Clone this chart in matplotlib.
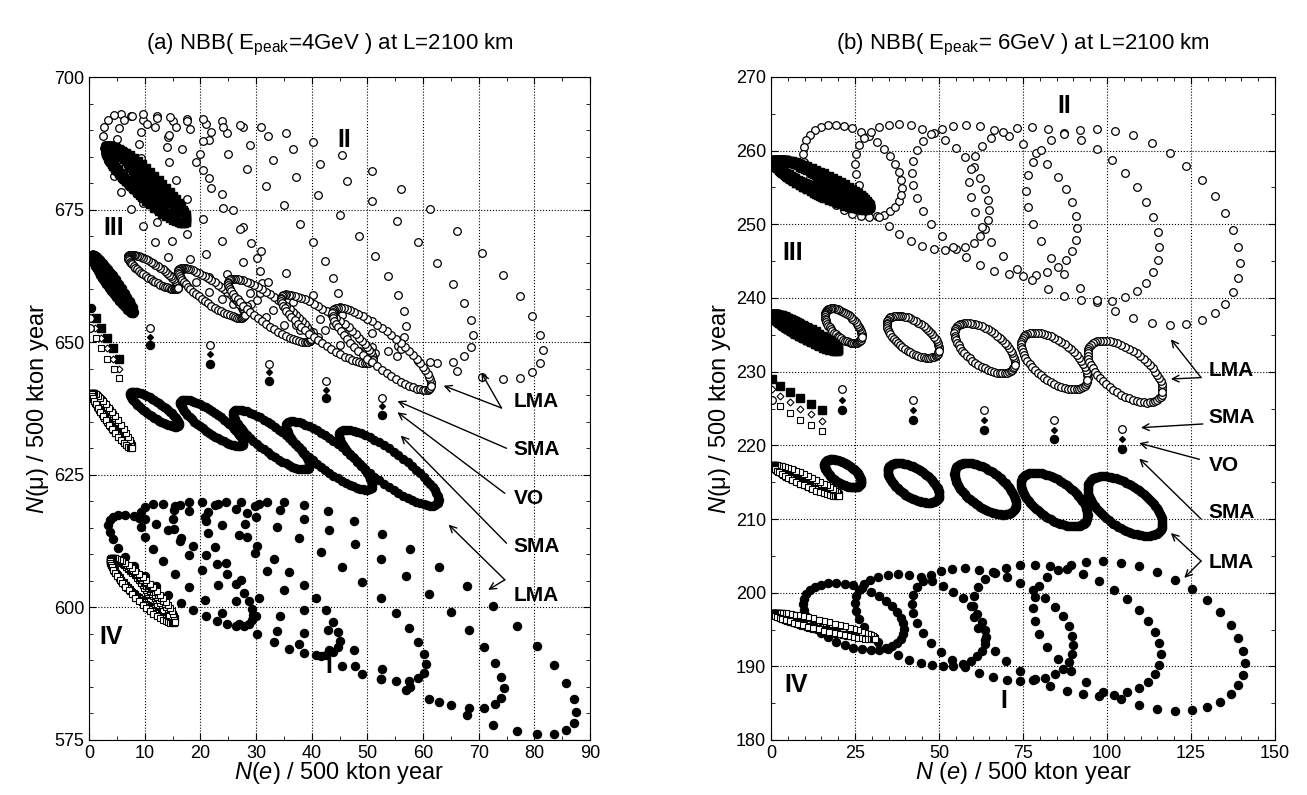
import numpy as np
import matplotlib.pyplot as plt

plt.rcParams['font.family'] = 'Liberation Sans'
plt.rcParams['mathtext.fontset'] = 'custom'
plt.rcParams['mathtext.rm'] = 'Liberation Sans'
plt.rcParams['mathtext.it'] = 'Liberation Sans:italic'
plt.rcParams['mathtext.bf'] = 'Liberation Sans:bold'

# ---------------- panel (a): NBB 4 GeV ----------------
# each loop = (x range, y range); points run over delta_CP
a_II_x = [(2.5, 31), (5, 45), (9, 57), (14, 69), (20, 81.5)]
a_II_y = [(657, 693), (652, 693), (648, 692.5), (646, 692), (643, 691)]
a_I_x = [(3.5, 29.5), (9, 45), (15, 60.5), (21, 74.5), (28, 87.5)]
a_I_y = [(596.5, 617.5), (591, 619.5), (586, 620), (581, 620), (576, 620)]
a_lma_open_x = [(7, 16), (16, 28), (25, 40), (34.5, 51), (43.7, 61.5)]
a_lma_open_y = [(660, 666.5), (654.6, 664), (650, 662), (646, 659), (641, 656.5)]
a_lma_fill_x = [(7.4, 16.1), (16.4, 27.7), (25.9, 39.6), (35.4, 50.9), (44.9, 62.8)]
a_lma_fill_y = [(634.1, 640.7), (630.4, 639.2), (626, 637.3), (622.2, 635.1), (619.2, 633.5)]

# narrow blobs (regions III / IV): common corner + varying far end
a_III_sq_x = (3.0, [9.5, 11.5, 13.5, 15.5, 17.5])
a_III_sq_y = (687.0, [678.5, 677, 675.5, 674, 672.5])
a_III_c_x = (0.5, [5, 5.8, 6.6, 7.3, 8])
a_III_c_y = (666.5, [659, 658.2, 657.2, 656.3, 655.5])
a_IIIb_sq_x = (0.5, [5, 5.7, 6.4, 7, 7.7])
a_IIIb_sq_y = (640.5, [633.5, 632.6, 631.7, 630.8, 630])
a_IV_x = (3.8, [11, 12.2, 13.3, 14.4, 15.5])
a_IV_y = (609.3, [601, 600, 599, 598, 597])

# SMA / VO single points
a_col_x = [11, 21.7, 32.3, 42.6, 52.6]
a_col_sma_open = [652.7, 649.4, 645.9, 642.6, 639.5]
a_col_vo = [651, 647.7, 644.3, 641, 637.9]
a_col_sma_fill = [649.4, 645.9, 642.6, 639.5, 636.3]
a_casc_sqf_x = [1.2, 2.2, 3.3, 4.3, 5.4]
a_casc_sqf_y = [654.6, 652.7, 650.8, 648.9, 646.9]
a_casc_dia_x = [1.0, 2.2, 3.3, 4.3, 5.4]
a_casc_dia_y = [652.7, 650.8, 648.9, 646.9, 645.0]
a_casc_sqo_x = [1.2, 2.2, 3.3, 4.5, 5.4]
a_casc_sqo_y = [650.8, 648.9, 646.9, 645.0, 643.3]
a_casc_co_x = [0.2, 0.2]
a_casc_co_y = [654.6, 652.7]
a_casc_cf = (0.3, 656.5)

# ---------------- panel (b): NBB 6 GeV ----------------
b_II_x = [(9.5, 39), (25, 65), (42, 91), (59, 115.5), (76, 139.5)]
b_II_y = [(251, 263.5), (246.5, 263.6), (243, 263.5), (239.5, 263.2), (236.3, 263)]
b_I_x = [(9.5, 39.5), (25, 64), (42, 90), (60, 116), (78, 141)]
b_I_y = [(192.2, 201.3), (190, 202.5), (188, 203.3), (186, 203.8), (184, 204.3)]
b_lma_open_x = [(16, 27), (34.5, 50), (54.6, 72.6), (74.4, 94.2), (94.2, 116.5)]
b_lma_open_y = [(233.9, 238.6), (231.9, 237.6), (229.8, 236.6), (227.6, 235.3), (225.8, 234.2)]
b_lma_fill_x = [(15.9, 26.8), (34.7, 50.1), (54.6, 72.9), (74.4, 94.2), (94.2, 116.5)]
b_lma_fill_y = [(214.3, 218.1), (212.2, 217.6), (210.6, 217.6), (209, 216.3), (207.7, 215.8)]

b_III_sq_x = (1.0, [17, 20, 23, 26, 29.5])
b_III_sq_y = (258.8, [254.8, 254.0, 253.2, 252.5, 252])
b_IIIb_sq_x = (0.5, [12, 14, 16, 18, 20])
b_IIIb_sq_y = (237.8, [234.6, 234.1, 233.6, 233.2, 232.8])
b_IVb_sq_x = (0.5, [12, 14, 16, 18, 20.3])
b_IVb_sq_y = (217.3, [214.8, 214.3, 213.9, 213.5, 213.1])
b_IV_x = (0.5, [15, 19, 23, 27, 31])
b_IV_y = (197.3, [195, 194.7, 194.3, 194, 193.7])

b_col_x = [21.1, 42.2, 63.3, 84.1, 104.6]
b_col_sma_open = [227.6, 226.1, 224.8, 223.4, 222.2]
b_col_vo = [226.2, 224.8, 223.4, 222.1, 220.8]
b_col_sma_fill = [224.8, 223.4, 222.1, 220.8, 219.5]
b_casc_sqf_x = [0.4, 2.7, 5.7, 8.7, 11.9, 15.2]
b_casc_sqf_y = [229, 228.1, 227.3, 226.4, 225.6, 224.8]
b_casc_dia_x = [0.4, 2.7, 5.7, 8.7, 11.9, 15.2]
b_casc_dia_y = [227.6, 226.7, 225.9, 225, 224.2, 223.3]
b_casc_sqo_x = [2.7, 5.7, 8.7, 11.9, 15.2]
b_casc_sqo_y = [225.3, 224.4, 223.5, 222.7, 221.9]
b_casc_co_x = [0.4]
b_casc_co_y = [226.2]

OPEN_C = dict(marker='o', ls='none', mfc='white', mec='black', ms=5.5, mew=0.9)
FILL_C = dict(marker='o', ls='none', color='black', ms=5.8)
FILL_S = dict(marker='s', ls='none', color='black', ms=5.5)
OPEN_S = dict(marker='s', ls='none', mfc='white', mec='black', ms=5, mew=0.8)
OPEN_D = dict(marker='D', ls='none', mfc='white', mec='black', ms=3.5, mew=0.8)
FILL_D = dict(marker='D', ls='none', color='black', ms=3)


def loop(xr, yr, tilt, n):
    d = np.linspace(0, 2 * np.pi, n, endpoint=False)
    cx, rx = (xr[0] + xr[1]) / 2, (xr[1] - xr[0]) / 2
    cy, ry = (yr[0] + yr[1]) / 2, (yr[1] - yr[0]) / 2
    return cx + rx * np.cos(d), cy + ry * np.cos(d - tilt)


def draw_loops(ax, xs, ys, tilt, n, style):
    for xr, yr in zip(xs, ys):
        x, y = loop(xr, yr, tilt, n)
        ax.plot(x, y, **style)


def draw_blob(ax, bx, by, tilt, n, style):
    for xh, yl in zip(bx[1], by[1]):
        x, y = loop((bx[0], xh), (yl, by[0]), tilt, n)
        ax.plot(x, y, **style)


def arrow(ax, start, end):
    ax.annotate('', xy=end, xytext=start,
                arrowprops=dict(arrowstyle='->', color='black', lw=1,
                                shrinkA=0, shrinkB=0, mutation_scale=12))


def frame(ax, xlim, ylim, xmaj, xmin, ymaj, ymin):
    ax.set_xlim(*xlim)
    ax.set_ylim(*ylim)
    ax.set_xticks(np.arange(xlim[0], xlim[1] + 0.1, xmaj))
    ax.set_xticks(np.arange(xlim[0], xlim[1] + 0.1, xmin), minor=True)
    ax.set_yticks(np.arange(ylim[0], ylim[1] + 0.1, ymaj))
    ax.set_yticks(np.arange(ylim[0], ylim[1] + 0.1, ymin), minor=True)
    ax.tick_params(which='both', direction='in', top=True, right=True, labelsize=13)
    ax.tick_params(which='major', length=5)
    ax.tick_params(which='minor', length=3)
    ax.grid(True, which='major', ls=':', color='black', lw=0.8)
    ax.set_axisbelow(True)


fig = plt.figure(figsize=(13.07, 7.95), dpi=100)
axA = fig.add_axes([89 / 1307, 1 - 740 / 795, 501 / 1307, 663 / 795])
axB = fig.add_axes([771 / 1307, 1 - 740 / 795, 504 / 1307, 663 / 795])

# ---- panel (a)
ax = axA
frame(ax, (0, 90), (575, 700), 10, 5, 25, 5)
draw_loops(ax, a_II_x, a_II_y, 0.78 * np.pi, 36, OPEN_C)
draw_loops(ax, a_I_x, a_I_y, 0.8 * np.pi, 36, FILL_C)
draw_loops(ax, a_lma_open_x, a_lma_open_y, 0.83 * np.pi, 64, OPEN_C)
draw_loops(ax, a_lma_fill_x, a_lma_fill_y, 0.83 * np.pi, 64, FILL_C)
draw_blob(ax, a_III_sq_x, a_III_sq_y, 0.86 * np.pi, 60, FILL_S)
draw_blob(ax, a_III_c_x, a_III_c_y, 0.9 * np.pi, 40, FILL_C)
draw_blob(ax, a_IIIb_sq_x, a_IIIb_sq_y, 0.9 * np.pi, 40, OPEN_S)
draw_blob(ax, a_IV_x, a_IV_y, 0.86 * np.pi, 56, OPEN_S)
ax.plot(a_col_x, a_col_sma_open, **OPEN_C)
ax.plot(a_col_x, a_col_vo, **FILL_D)
ax.plot(a_col_x, a_col_sma_fill, **FILL_C)
ax.plot(a_casc_sqf_x, a_casc_sqf_y, **FILL_S)
ax.plot(a_casc_dia_x, a_casc_dia_y, **OPEN_D)
ax.plot(a_casc_sqo_x, a_casc_sqo_y, **OPEN_S)
ax.plot(a_casc_co_x, a_casc_co_y, **OPEN_C)
ax.plot(*a_casc_cf, **FILL_C)

ax.text(45.8, 688.2, 'II', fontsize=18, fontweight='bold', ha='center', va='center')
ax.text(4.5, 671.5, 'III', fontsize=18, fontweight='bold', ha='center', va='center')
ax.text(4.0, 594.5, 'IV', fontsize=18, fontweight='bold', ha='center', va='center')
ax.text(43, 589, 'I', fontsize=18, fontweight='bold', ha='center', va='center')

for lab, y in [('LMA', 638.9), ('SMA', 629.7), ('VO', 620.6), ('SMA', 611.5), ('LMA', 602.3)]:
    ax.text(76.3, y, lab, fontsize=15, fontweight='bold', ha='left', va='center')
arrow(ax, (74.1, 637.6), (63.7, 641.8))
arrow(ax, (74.1, 637.6), (70.5, 644.2))
arrow(ax, (75.0, 630.0), (55.4, 638.9))
arrow(ax, (74.7, 621.5), (55.4, 636.8))
arrow(ax, (75.0, 612.1), (56.0, 632.4))
arrow(ax, (74.7, 605.2), (64.6, 615.6))
arrow(ax, (74.7, 605.2), (71.7, 603.3))

ax.set_xlabel(r'$N(e)$ / 500 kton year', fontsize=17, labelpad=-1)
ax.set_ylabel(r'$N$($\mathrm{\mu}$) / 500 kton year', fontsize=17, labelpad=2)
ax.set_title(r'(a) NBB( E$_{\mathrm{peak}}$=4GeV ) at L=2100 km', fontsize=16, pad=20, x=0.48)

# ---- panel (b)
ax = axB
frame(ax, (0, 150), (180, 270), 25, 5, 10, 5)
draw_loops(ax, b_II_x, b_II_y, 0.62 * np.pi, 36, OPEN_C)
draw_loops(ax, b_I_x, b_I_y, 0.62 * np.pi, 36, FILL_C)
draw_loops(ax, b_lma_open_x, b_lma_open_y, 0.7 * np.pi, 60, OPEN_C)
draw_loops(ax, b_lma_fill_x, b_lma_fill_y, 0.7 * np.pi, 90, FILL_C)
draw_blob(ax, b_III_sq_x, b_III_sq_y, 0.84 * np.pi, 70, FILL_S)
draw_blob(ax, b_IIIb_sq_x, b_IIIb_sq_y, 0.88 * np.pi, 50, FILL_S)
draw_blob(ax, b_IVb_sq_x, b_IVb_sq_y, 0.88 * np.pi, 50, OPEN_S)
draw_blob(ax, b_IV_x, b_IV_y, 0.88 * np.pi, 60, OPEN_S)
ax.plot(b_col_x, b_col_sma_open, **OPEN_C)
ax.plot(b_col_x, b_col_vo, **FILL_D)
ax.plot(b_col_x, b_col_sma_fill, **FILL_C)
ax.plot(b_casc_sqf_x, b_casc_sqf_y, **FILL_S)
ax.plot(b_casc_dia_x, b_casc_dia_y, **OPEN_D)
ax.plot(b_casc_sqo_x, b_casc_sqo_y, **OPEN_S)
ax.plot(b_casc_co_x, b_casc_co_y, **OPEN_C)

ax.text(87.3, 266, 'II', fontsize=18, fontweight='bold', ha='center', va='center')
ax.text(6.4, 246.1, 'III', fontsize=18, fontweight='bold', ha='center', va='center')
ax.text(7.4, 187.5, 'IV', fontsize=18, fontweight='bold', ha='center', va='center')
ax.text(69.4, 185.3, 'I', fontsize=18, fontweight='bold', ha='center', va='center')

for lab, y in [('LMA', 230.1), ('SMA', 223.8), ('VO', 217.2), ('SMA', 210.9), ('LMA', 204.1)]:
    ax.text(130.2, y, lab, fontsize=15, fontweight='bold', ha='left', va='center')
arrow(ax, (128.0, 229.2), (119.0, 234.4))
arrow(ax, (128.0, 229.2), (119.0, 229.0))
arrow(ax, (128.5, 222.9), (110.1, 222.4))
arrow(ax, (127.5, 218.1), (109.6, 220.3))
arrow(ax, (128.0, 210.0), (109.6, 218.2))
arrow(ax, (128.0, 204.3), (119.0, 208.1))
arrow(ax, (128.0, 204.3), (123.0, 202.0))

ax.set_xlabel(r'$N$ $(e)$ / 500 kton year', fontsize=17, labelpad=-1)
ax.set_ylabel(r'$N$($\mathrm{\mu}$) / 500 kton year', fontsize=17, labelpad=2)
ax.set_title(r'(b) NBB( E$_{\mathrm{peak}}$= 6GeV ) at L=2100 km', fontsize=16, pad=20, x=0.5)

fig.savefig('out.png', dpi=100)
